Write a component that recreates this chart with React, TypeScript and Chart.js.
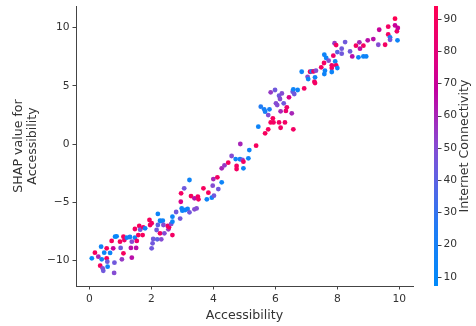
import React, { useEffect, useRef } from 'react';
import { Chart, registerables } from 'chart.js';

Chart.register(...registerables);

// ---- data ----
const accessibility = [
  0.08, 0.18, 0.29, 0.38, 0.40, 0.35, 0.43, 0.45, 0.48, 0.56,
  0.56, 0.58, 0.59, 0.67, 0.72, 0.77, 0.81, 0.80, 0.83, 0.88,
  0.99, 1.01, 1.05, 1.10, 1.10, 1.13, 1.21, 1.31, 1.34, 1.37,
  1.37, 1.47, 1.47, 1.51, 1.53, 1.58, 1.61, 1.64, 1.72, 1.74,
  1.80, 1.94, 1.96, 2.01, 2.01, 2.04, 2.06, 2.17, 2.19, 2.21,
  2.21, 2.28, 2.28, 2.30, 2.32, 2.37, 2.39, 2.42, 2.53, 2.55,
  2.57, 2.64, 2.68, 2.68, 2.68, 2.80, 2.93, 2.95, 2.96, 2.98,
  3.00, 3.06, 3.09, 3.17, 3.23, 3.23, 3.28, 3.39, 3.39, 3.46,
  3.50, 3.52, 3.68, 3.79, 3.84, 3.95, 3.98, 4.00, 4.02, 4.13,
  4.16, 4.27, 4.27, 4.36, 4.48, 4.59, 4.72, 4.75, 4.75, 4.86,
  4.87, 4.94, 4.97, 4.97, 5.13, 5.16, 5.38, 5.45, 5.53, 5.64,
  5.67, 5.67, 5.77, 5.77, 5.81, 5.85, 5.85, 5.92, 5.94, 5.99,
  6.02, 6.06, 6.12, 6.12, 6.15, 6.17, 6.17, 6.21, 6.27, 6.31,
  6.34, 6.37, 6.44, 6.53, 6.56, 6.58, 6.58, 6.61, 6.72, 6.85,
  6.93, 7.04, 7.06, 7.12, 7.17, 7.23, 7.26, 7.28, 7.28, 7.31,
  7.48, 7.57, 7.58, 7.58, 7.60, 7.64, 7.72, 7.82, 7.82, 7.82,
  7.87, 7.91, 7.93, 7.96, 7.96, 8.00, 8.00, 8.14, 8.14, 8.25,
  8.41, 8.48, 8.60, 8.68, 8.71, 8.73, 8.84, 8.84, 8.93, 8.98,
  9.16, 9.32, 9.35, 9.54, 9.64, 9.64, 9.70, 9.70, 9.86, 9.86,
  9.92, 9.95, 9.94,
];

const shapValues = [
  -9.82, -9.34, -9.68, -8.82, -9.91, -10.45, -10.68, -10.9, -9.34, -8.96,
  -9.82, -10.11, -10.54, -9.36, -8.33, -8.96, -10.2, -11.08, -7.96, -7.93,
  -8.39, -8.93, -9.91, -7.96, -9.39, -8.25, -8.05, -7.99, -8.93, -8.39,
  -9.77, -7.30, -8.05, -8.93, -8.33, -7.82, -7.04, -7.36, -7.82, -7.16,
  -7.24, -6.53, -6.96, -6.81, -8.96, -8.53, -8.16, -7.39, -8.19, -6.01,
  -6.96, -6.59, -7.67, -6.62, -8.19, -6.59, -6.96, -7.67, -7.04, -7.33,
  -7.16, -6.87, -6.24, -6.67, -7.82, -5.84, -6.41, -4.96, -4.24, -5.53,
  -5.73, -3.81, -5.67, -5.58, -3.09, -5.87, -4.47, -4.67, -5.61, -5.53,
  -4.52, -4.75, -3.81, -4.75, -4.18, -4.61, -3.58, -3.01, -4.44, -2.86,
  -3.87, -3.29, -2.09, -1.83, -1.60, -1.03, -1.29, -1.89, -2.15, -1.31,
  0.00, -1.37, -1.52, -2.09, -1.23, -0.52, -0.14, 1.49, 3.21, 2.98,
  0.92, 2.78, 1.26, 2.49, 2.98, 1.86, 4.44, 2.21, 1.86, 4.64,
  3.50, 3.35, 1.86, 4.15, 3.87, 1.40, 2.81, 4.35, 3.50, 1.86,
  2.84, 3.15, 4.01, 2.64, 4.49, 1.26, 4.70, 4.30, 4.64, 6.21,
  4.78, 5.77, 5.58, 6.21, 6.24, 6.24, 5.35, 5.73, 5.24, 6.30,
  6.59, 6.96, 6.01, 7.67, 6.30, 7.39, 7.16, 6.76, 6.53, 6.19,
  7.59, 8.66, 7.10, 6.76, 8.50, 6.53, 7.90, 8.19, 7.76, 8.76,
  7.96, 7.53, 8.45, 7.45, 8.74, 8.19, 8.45, 7.53, 7.53, 8.91,
  9.02, 8.53, 9.82, 8.53, 9.42, 10.08, 9.17, 8.96, 10.77, 10.19,
  9.68, 9.97, 8.91,
];

const connectivity = [
  8, 90, 60, 15, 15, 90, 50, 45, 15, 90,
  90, 45, 15, 15, 90, 70, 45, 50, 12, 12,
  90, 45, 55, 90, 90, 85, 15, 18, 65, 50,
  65, 88, 15, 65, 85, 90, 90, 45, 90, 85,
  15, 90, 88, 88, 45, 45, 45, 45, 40, 15,
  40, 15, 88, 15, 50, 15, 50, 50, 85, 55,
  88, 50, 15, 15, 88, 45, 45, 75, 88, 15,
  15, 45, 15, 15, 15, 45, 90, 65, 50, 50,
  88, 88, 90, 15, 90, 15, 50, 60, 45, 88,
  45, 15, 60, 55, 90, 50, 15, 88, 88, 15,
  60, 50, 88, 15, 15, 15, 90, 15, 25, 20,
  90, 20, 90, 50, 20, 90, 55, 90, 88, 45,
  50, 50, 88, 45, 50, 88, 60, 50, 45, 88,
  85, 85, 75, 60, 45, 88, 15, 45, 15, 15,
  88, 50, 15, 88, 15, 88, 88, 15, 88, 50,
  88, 88, 15, 15, 15, 15, 50, 85, 88, 15,
  85, 55, 15, 88, 88, 15, 40, 45, 45, 45,
  45, 65, 88, 15, 60, 65, 88, 15, 15, 65,
  65, 50, 70, 88, 88, 88, 20, 45, 94, 70,
  88, 70, 15,
];

const xTicks = [0, 2, 4, 6, 8, 10];
const yTicks = [-10, -5, 0, 5, 10];
const colorTicks = [10, 20, 30, 40, 50, 60, 70, 80, 90];
const xLabel = 'Accessibility';
const yLabel = ['SHAP value for', 'Accessibility'];
const colorLabel = 'Internet Connectivity';

// ---- styles ----
const X_MIN = -0.43;
const X_MAX = 10.44;
const Y_MIN = -12.2;
const Y_MAX = 11.86;
const C_MIN = 7.2;
const C_MAX = 94;
const FONT = 'DejaVu Sans';
const TEXT = '#333333';
const AXIS = '#444444';
const TICK_SIZE = 10.7;
const LABEL_SIZE = 12.6;

const STOPS: number[][] = [
  [0.0, 0, 138, 250],
  [0.2, 30, 125, 245],
  [0.4, 100, 95, 225],
  [0.5, 135, 75, 210],
  [0.6, 165, 40, 185],
  [0.7, 195, 0, 160],
  [0.8, 222, 0, 130],
  [1.0, 255, 0, 82],
];

function cmap(t: number): string {
  const v = Math.min(1, Math.max(0, t));
  for (let i = 1; i < STOPS.length; i++) {
    if (v <= STOPS[i][0]) {
      const a = STOPS[i - 1];
      const b = STOPS[i];
      const f = (v - a[0]) / (b[0] - a[0]);
      const r = Math.round(a[1] + (b[1] - a[1]) * f);
      const g = Math.round(a[2] + (b[2] - a[2]) * f);
      const bl = Math.round(a[3] + (b[3] - a[3]) * f);
      return `rgb(${r},${g},${bl})`;
    }
  }
  return 'rgb(255,0,82)';
}

const minus = (v: number) => String(v).replace('-', '\u2212');

const colorbarPlugin = {
  id: 'colorbar',
  afterDraw(chart: any) {
    const ctx = chart.ctx as CanvasRenderingContext2D;
    const { top, bottom, right } = chart.chartArea;
    const x0 = right + 21;
    const w = 4;
    const h = bottom - top;
    ctx.save();
    for (let y = 0; y < h; y++) {
      ctx.fillStyle = cmap(1 - (y + 0.5) / h);
      ctx.fillRect(x0, top + y, w, 1);
    }
    ctx.strokeStyle = AXIS;
    ctx.lineWidth = 1;
    ctx.fillStyle = TEXT;
    ctx.font = `${TICK_SIZE}px ${FONT}`;
    ctx.textAlign = 'left';
    ctx.textBaseline = 'middle';
    for (const v of colorTicks) {
      const y = bottom - ((v - C_MIN) / (C_MAX - C_MIN)) * h;
      ctx.beginPath();
      ctx.moveTo(x0 + w, Math.round(y) + 0.5);
      ctx.lineTo(x0 + w + 3.5, Math.round(y) + 0.5);
      ctx.stroke();
      ctx.fillText(String(v), x0 + w + 5.5, y);
    }
    ctx.font = `${LABEL_SIZE}px ${FONT}`;
    ctx.translate(x0 + 30.5, (top + bottom) / 2);
    ctx.rotate(-Math.PI / 2);
    ctx.textAlign = 'center';
    ctx.fillText(colorLabel, 0, 0);
    ctx.restore();
  },
};

export default function App() {
  const ref = useRef<HTMLCanvasElement | null>(null);

  useEffect(() => {
    const canvas = ref.current;
    if (!canvas) return;
    const points = accessibility.map((x, i) => ({ x, y: shapValues[i] }));
    const colors = connectivity.map((c) => cmap((c - C_MIN) / (C_MAX - C_MIN)));

    const axisCommon = {
      type: 'linear' as const,
      grid: {
        display: true,
        drawOnChartArea: false,
        drawTicks: true,
        tickLength: 3.5,
        color: AXIS,
        lineWidth: 1,
      },
      border: { display: true, color: AXIS, width: 1 },
    };

    const chart = new Chart(canvas, {
      type: 'scatter',
      data: {
        datasets: [
          {
            data: points,
            backgroundColor: colors,
            borderColor: 'transparent',
            borderWidth: 0,
            pointRadius: 2.4,
            pointHoverRadius: 2.4,
          },
        ],
      },
      options: {
        responsive: false,
        animation: false,
        devicePixelRatio: 1,
        layout: { padding: { left: 0, right: 63, top: 6, bottom: 0 } },
        plugins: {
          legend: { display: false },
          tooltip: { enabled: false },
        },
        scales: {
          x: {
            ...axisCommon,
            min: X_MIN,
            max: X_MAX,
            afterBuildTicks: (s: any) => {
              s.ticks = xTicks.map((v) => ({ value: v }));
            },
            afterFit: (s: any) => {
              s.height = 40;
              s.paddingLeft = 0;
              s.paddingRight = 0;
            },
            ticks: {
              color: TEXT,
              font: { family: FONT, size: TICK_SIZE },
              padding: 3,
              maxRotation: 0,
              callback: (v: any) => minus(v),
            },
            title: {
              display: true,
              text: xLabel,
              color: TEXT,
              font: { family: FONT, size: LABEL_SIZE },
              padding: { top: 0, bottom: 3 },
            },
          },
          y: {
            ...axisCommon,
            min: Y_MIN,
            max: Y_MAX,
            afterBuildTicks: (s: any) => {
              s.ticks = yTicks.map((v) => ({ value: v }));
            },
            afterFit: (s: any) => {
              s.width = 76;
              s.paddingTop = 0;
              s.paddingBottom = 0;
            },
            ticks: {
              color: TEXT,
              font: { family: FONT, size: TICK_SIZE },
              padding: 3,
              callback: (v: any) => minus(v),
            },
            title: {
              display: true,
              text: yLabel,
              color: TEXT,
              font: { family: FONT, size: LABEL_SIZE, lineHeight: 1.15 },
              padding: { top: 11, bottom: 0 },
            },
          },
        },
      },
      plugins: [colorbarPlugin],
    });

    return () => chart.destroy();
  }, []);

  return (
    <div style={{ position: 'fixed', left: 0, top: 0, width: 476, height: 326, background: '#ffffff' }}>
      <canvas ref={ref} width={476} height={326} style={{ display: 'block' }} />
    </div>
  );
}
